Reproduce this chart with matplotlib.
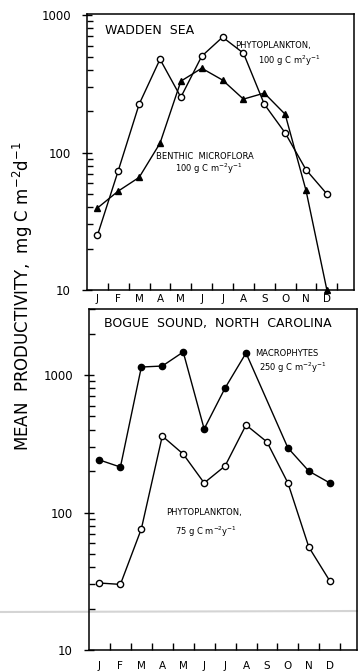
import matplotlib.pyplot as plt
import matplotlib.ticker as mticker
from matplotlib.lines import Line2D

# Monthly productivity, mg C m-2 d-1
meses = ['J', 'F', 'M', 'A', 'M', 'J', 'J', 'A', 'S', 'O', 'N', 'D']
x_meses = list(range(12))

wadden_fito = [25, 74, 225, 478, 253, 503, 692, 529, 225, 139, 75, 50]
wadden_bentos = [39.5, 52.5, 66, 117, 331, 411, 337, 245, 271, 190, 53, 10]

# Macrophytes have no September value
x_macro = [0, 1, 2, 3, 4, 5, 6, 7, 9, 10, 11]
bogue_macro = [241, 214, 1143, 1162, 1470, 405, 804, 1445, 295, 200, 164]
bogue_fito = [30.7, 30, 76, 360, 266, 164, 218, 433, 326, 164, 56, 31.8]

plt.rcParams['font.family'] = 'DejaVu Sans'
plt.rcParams['mathtext.default'] = 'regular'

W, H = 358, 671
fig = plt.figure(figsize=(W / 100, H / 100), dpi=100)


def eixo(x0, x1, y0, y1):
    # axes rectangle given in pixels from the top-left corner
    ax = fig.add_axes([x0 / W, 1 - y1 / H, (x1 - x0) / W, (y1 - y0) / H])
    ax.set_facecolor('none')
    return ax


def formata(ax, ytop, pad_x):
    ax.set_yscale('log')
    ax.set_ylim(10, ytop)
    ax.set_xlim(-0.5, 12.3)
    ax.set_xticks(x_meses)
    ax.set_xticklabels(meses, fontsize=7.5)
    ax.set_xticks([i + 0.5 for i in range(12)], minor=True)
    ax.tick_params(axis='x', which='major', length=0, pad=pad_x)
    ax.tick_params(axis='x', which='minor', direction='in', length=5, width=1)
    ax.yaxis.set_major_locator(mticker.LogLocator(base=10, numticks=10))
    ax.yaxis.set_minor_locator(mticker.LogLocator(base=10, subs=range(2, 10), numticks=10))
    ax.yaxis.set_major_formatter(mticker.FuncFormatter(lambda v, p: f'{v:g}'))
    ax.yaxis.set_minor_formatter(mticker.NullFormatter())
    ax.tick_params(axis='y', which='major', direction='inout', length=7, width=1,
                   labelsize=8.5, pad=8)
    ax.tick_params(axis='y', which='minor', direction='in', length=4, width=1)
    for s in ax.spines.values():
        s.set_linewidth(1.1)


# Wadden Sea
ax1 = eixo(87, 354, 14, 290)
formata(ax1, 1020, 3)
ax1.plot(x_meses, wadden_fito, color='black', lw=1.0, marker='o', ms=4.5,
         mfc='white', mec='black', mew=1.0, clip_on=False, zorder=3)
ax1.plot(x_meses, wadden_bentos, color='black', lw=1.0, marker='^', ms=5,
         mfc='black', mec='black', clip_on=False, zorder=3)
ax1.text(0.35, 770, 'WADDEN  SEA', fontsize=9, va='center', ha='left')
ax1.text(6.6, 600, 'PHYTOPLANKTON,', fontsize=6, va='center', ha='left')
ax1.text(7.7, 465, '100 g C m$^{2}$y$^{-1}$', fontsize=6, va='center', ha='left')
ax1.text(2.8, 93, 'BENTHIC  MICROFLORA', fontsize=6, va='center', ha='left')
ax1.text(3.7, 76, '100 g C m$^{-2}$y$^{-1}$', fontsize=6, va='center', ha='left')

# Bogue Sound
ax2 = eixo(89, 357, 309, 650)
formata(ax2, 3020, 8)
ax2.plot(x_macro, bogue_macro, color='black', lw=1.0, marker='o', ms=4.5,
         mfc='black', mec='black', clip_on=False, zorder=3)
ax2.plot(x_meses, bogue_fito, color='black', lw=1.0, marker='o', ms=4.5,
         mfc='white', mec='black', mew=1.0, clip_on=False, zorder=3)
ax2.text(5.65, 2380, 'BOGUE  SOUND,  NORTH  CAROLINA', fontsize=9,
         va='center', ha='center')
ax2.text(7.45, 1430, 'MACROPHYTES', fontsize=6, va='center', ha='left')
ax2.text(7.6, 1120, '250 g C m$^{-2}$y$^{-1}$', fontsize=6, va='center', ha='left')
ax2.text(5.0, 100, 'PHYTOPLANKTON,', fontsize=6, va='center', ha='center')
ax2.text(5.1, 72, '75 g C m$^{-2}$y$^{-1}$', fontsize=6, va='center', ha='center')

fig.text(23 / W, 1 - 296 / H, 'MEAN  PRODUCTIVITY,  mg C m$^{-2}$d$^{-1}$',
         rotation=90, fontsize=12, va='center', ha='center')

# faint grey streak across the lower panel
fig.add_artist(Line2D([0, 1], [1 - 612 / H, 1 - 611 / H], color='#d4d4d4',
                      lw=1.5, transform=fig.transFigure, zorder=0))

fig.savefig('out.png', dpi=100)
